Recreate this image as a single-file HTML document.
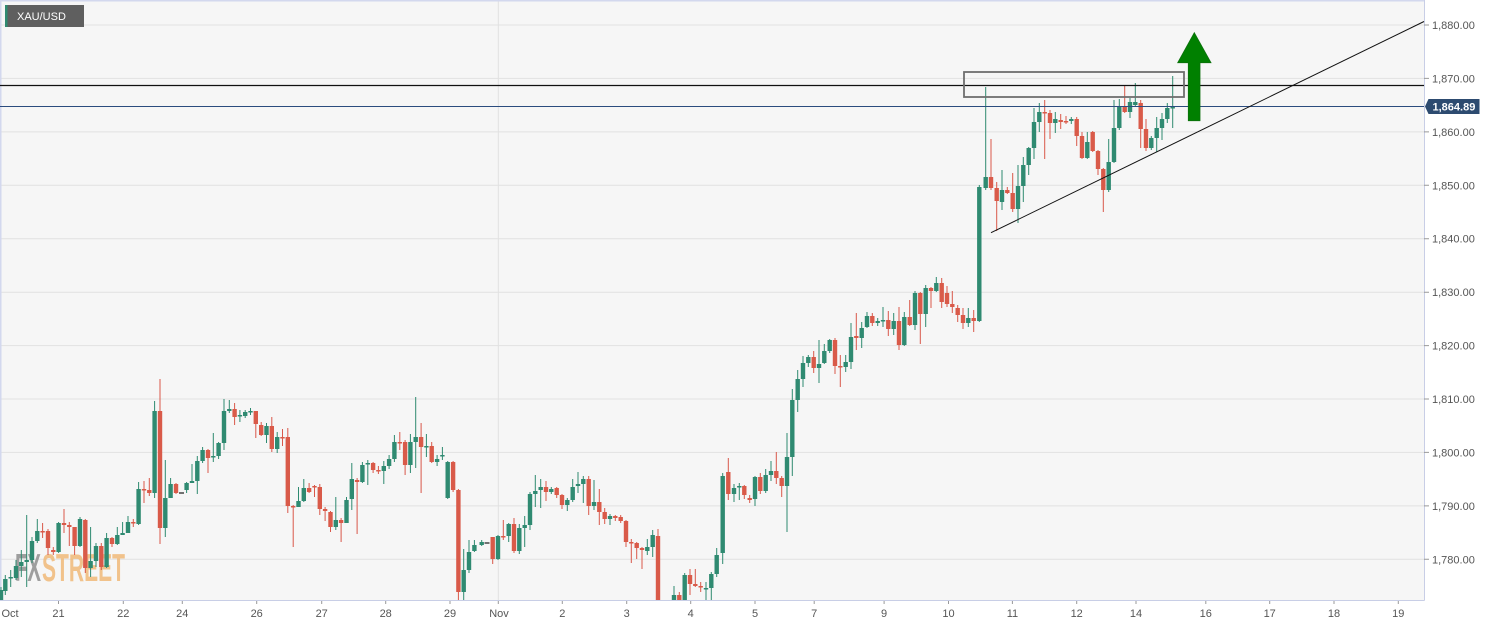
<!DOCTYPE html>
<html><head><meta charset="utf-8"><style>
html,body{margin:0;padding:0;background:#fff;width:1501px;height:626px;overflow:hidden}
svg{display:block}
text{font-family:"Liberation Sans",Arial,sans-serif}
</style></head><body>
<svg width="1501" height="626" viewBox="0 0 1501 626" xmlns="http://www.w3.org/2000/svg">
<defs><clipPath id="pc"><rect x="0" y="0" width="1424" height="600"/></clipPath></defs>
<rect x="0" y="0" width="1501" height="626" fill="#fff"/>
<rect x="0" y="0" width="1424" height="600" fill="#f6f6f6"/>
<!-- grid -->
<g stroke="#e1e1e1" stroke-width="1">
<path d="M0 25H1424M0 78.4H1424M0 131.9H1424M0 185.3H1424M0 238.7H1424M0 292.2H1424M0 345.6H1424M0 399H1424M0 452.4H1424M0 505.9H1424M0 559.3H1424"/>
<path d="M498.3 0V600"/>
</g>
<!-- borders -->
<path d="M0.75 0V600M0 0.75H1424" stroke="#d3d8ee" stroke-width="1.5"/>
<path d="M1424.5 0V600.5M0 600.5H1424.5" stroke="#c8cee6" stroke-width="1"/>
<!-- watermark -->
<text x="15" y="581" font-size="39" font-weight="bold" fill="#8e8e8e" fill-opacity="0.85" textLength="26" lengthAdjust="spacingAndGlyphs">FX</text>
<text x="42" y="581" font-size="39" font-weight="bold" fill="#f0b878" fill-opacity="0.85" textLength="83" lengthAdjust="spacingAndGlyphs">STREET</text>
<g clip-path="url(#pc)" fill="none" stroke-linecap="butt">
<!-- green wicks -->
<path stroke="#2e8a70" stroke-width="1" d="M1 587V600M5.3 575V595M10.7 570V587M16 560V580M21.3 550V577M26.7 515V587M32 537V563M37.3 519V543M58.6 522V553M80 517V547M90.6 527V577M96 543V567M106.6 533V568M117.3 527V545M122.6 522V535M128 516V533M138.6 482V525M154.6 401V498M165.3 460V537M170.6 478V498M186.6 482V493M192 464V483M197.3 456V494M202.6 447V463M213.3 433V462M218.6 442V459M224 399V450M229.3 400V413M239.9 410V422M245.2 410V418M250.5 408V415M266.5 423V443M277.2 432V453M298.5 487V507M303.8 479V502M335.8 497V530M346.5 497V523M351.8 463V510M362.4 462V483M367.8 460V485M383.8 461V484M389.1 455V469M394.4 435V462M410.4 434V473M415.7 397V468M426.4 434V457M437.1 455V466M442.4 447V460M447.7 461V499M463.7 549V600M469 540V573M474.4 540V552M481.7 540V546M498 535V560M508.7 523V542M519.3 524V554M524.7 516V547M530 492V530M535.3 475V507M540.7 479V508M551.3 487V494M567.3 498V511M572.7 479V502M578 472V493M583.3 476V503M594 480V510M610 514V525M647.3 539V555M652.7 530V557M674 586V600M684.7 573V600M706 582V600M711.3 572V600M716.7 548V577M722.7 473V564M734 484V502M739.3 483V500M755 476V506M765.7 469V493M771 461V481M787 433V532M792.3 389V476M797.7 370V412M803 356V387M808.3 355V367M819 340V383M824.3 344V364M829.7 339V353M845.7 355V372M851 323V369M861.7 322V348M867 312V328M877.7 318V326M883 307V327M893.7 313V335M904.3 312V346M915 291V330M925.7 285V327M936.3 277V292M968.3 308V327M979.3 185V322M985.7 87V190M1002 170V210M1018 165V223M1023.3 157V202M1028.7 147V175M1034 108V159M1039.3 103V132M1055.3 112V133M1071.3 117V124M1087.3 132V159M1108.7 139V192M1114 100V163M1119.3 99V130M1130 98V118M1135.3 83V107M1151.3 136V150M1156.7 117V152M1162 113V140M1167.3 103V123M1172.7 76V128"/>
<!-- green bodies -->
<path stroke="#2f8a71" stroke-width="4.4" d="M1 590V600M5.3 579V591M10.7 577V578.5M16 566V578M21.3 562V566M26.7 560V562M32 541V560M37.3 531V541M58.6 523V552M80 519V546M90.6 561V568M96 546V561M106.6 538V567M117.3 535V544M122.6 533V535M128 522V533M138.6 489V524M154.6 411V493M165.3 498V528M170.6 484V498M186.6 483V490M192 481V483M197.3 461V481M202.6 450V461M213.3 456V457.5M218.6 443V456M224 411V443M229.3 409V411M239.9 415V416.5M245.2 412V416M250.5 411V412.5M266.5 426V435M277.2 437V449M298.5 501V507M303.8 488V501M335.8 520V527M346.5 500V523M351.8 479V499M362.4 465V482M367.8 463V464.5M383.8 466V471M389.1 459V466M394.4 442V459M410.4 442V465M415.7 437V442M426.4 446V447.5M437.1 459V462M442.4 455V456.5M447.7 462V498M463.7 570V592M469 552V570M474.4 545V551M481.7 542V545M498 536V559M508.7 524V536M519.3 528V551M524.7 525V528M530 494V525M535.3 491V494M540.7 487V490M551.3 489V492M567.3 500V505M572.7 487V500M578 484V486M583.3 479V484M594 502V506M610 516V519M647.3 547V551M652.7 535V547M674 595V600M684.7 575V600M706 588V589.5M711.3 574V588M716.7 555V574M722.7 476V553M734 488V494M739.3 486V487.5M755 477V499M765.7 475V491M771 471V475M787 457V486M792.3 400V457M797.7 379V400M803 363V379M808.3 357V363M819 364V368M824.3 351V363M829.7 340V351M845.7 362V367M851 337V362M861.7 328V338M867 316V327M877.7 321V323M883 320V321.5M893.7 321V329M904.3 317V345M915 293V325M925.7 288V314M936.3 283V291M968.3 318V323M979.3 187V321M985.7 177V188M1002 190V202M1018 186V209M1023.3 165V186M1028.7 148V165M1034 122V148M1039.3 112V122M1055.3 119V123M1071.3 119V121M1087.3 142V158M1108.7 162V190M1114 128V162M1119.3 107V128M1130 102V112M1135.3 102V105M1151.3 138V148M1156.7 128V138M1162 119V128M1167.3 108V119M1172.7 107V108.5"/>
<!-- red wicks -->
<path stroke="#d9584a" stroke-width="1" d="M42.6 523V538M48 529V555M53.3 547V555M64 509V533M69.3 522V546M74.6 527V555M85.3 519V573M101.3 543V570M112 537V547M133.3 519V527M144 481V503M149.3 478V496M160 379V544M176 483V494M208 449V473M234.6 403V425M255.8 411V438M261.2 422V436M271.8 417V452M282.5 429V446M287.8 428V513M293.2 505V547M309.1 483V493M314.5 485V497M319.8 484V515M325.1 507V521M330.5 511V532M341.1 518V542M357.1 478V534M373.1 462V473M378.4 466V474M399.8 432V450M405.1 440V475M421.1 423V493M431.7 442V463M453.1 461V492M458.4 489V600M492.7 537V564M503.3 520V540M514 518V553M546 481V501M556.7 487V498M562 494V509M588.7 476V515M599.3 489V525M604.7 508V524M615.3 515V521M620.7 515V523M626 520V547M631.3 539V563M636.7 542V559M642 547V569M658 529V600M679.3 592V600M690 569V595M695.3 569V587M700.7 582V592M728.3 458V500M744.3 485V499M749.7 495V503M760.3 473V494M776.3 452V484M781.7 476V497M813.7 351V373M835 338V374M840.3 355V387M856.3 313V350M872.3 313V326M888.3 311V336M899 307V350M909.7 300V326M920.3 292V344M931 287V308M941.7 278V308M947 286V307M952.3 291V313M957.7 305V322M963 308V329M973.7 310V332M991 139V190M996.7 182V231M1007.3 187V194M1012.7 173V212M1044.7 100V159M1050 110V139M1060.7 114V129M1066 116V124M1076.7 117V146M1082 132V159M1092.7 131V152M1098 150V175M1103.3 168V212M1124.7 85V113M1140.7 100V148M1146 119V151"/>
<!-- red bodies -->
<path stroke="#d95a49" stroke-width="4.4" d="M42.6 531V532.5M48 531V548M53.3 550V552M64 523V525M69.3 525V527M74.6 527V546M85.3 520V568M101.3 546V567M112 538V544M133.3 522V523.5M144 489V490.5M149.3 490V493M160 411V528M176 484V493M208 450V458M234.6 409V417M255.8 411V424M261.2 425V435M271.8 426V449M282.5 437V438.5M287.8 437V506M293.2 506V507.5M309.1 488V492M314.5 486V487.5M319.8 487V509M325.1 509V511M330.5 512V527M341.1 520V523M357.1 480V482M373.1 463V470M378.4 470V471.5M399.8 442V443.5M405.1 442V465M421.1 437V447M431.7 446V462M453.1 462V490M458.4 490V592M492.7 537V559M503.3 536V537.5M514 524V551M546 487V492M556.7 488V495M562 495V505M588.7 479V506M599.3 502V512M604.7 512V519M615.3 516V518M620.7 517V521M626 521V542M631.3 542V543.5M636.7 543V548M642 548V550M658 536V600M679.3 595V600M690 575V584M695.3 584V586M700.7 586V587.5M728.3 472V494M744.3 486V495M749.7 498V500M760.3 477V491M776.3 471V478M781.7 478V486M813.7 357V368M835 340V366M840.3 366V367.5M856.3 336V338M872.3 316V323M888.3 320V329M899 321V345M909.7 317V325M920.3 293V314M931 288V291M941.7 283V302M947 293V304M952.3 304V307M957.7 308V315M963 315V323M973.7 318V321M991 177V188M996.7 188V201M1007.3 190V193M1012.7 193V209M1044.7 112V113.5M1050 113V123M1060.7 120V122M1066 121V122.5M1076.7 119V136M1082 136V158M1092.7 132V151M1098 151V169M1103.3 169V190M1124.7 107V112M1140.7 103V129M1146 129V148"/>
<!-- dojis -->
<path stroke="#222" stroke-width="1.2" d="M179 493H184M484.5 543H489.5"/>
</g>
<!-- horizontal lines -->
<path d="M0 85.5H1424" stroke="#111" stroke-width="1.2"/>
<path d="M0 106.5H1424" stroke="#2b4c7e" stroke-width="1"/>
<!-- rectangle -->
<rect x="964" y="72" width="220" height="25" fill="none" stroke="#6e6e6e" stroke-width="1.8"/>
<!-- trend line -->
<path d="M991 232.7L1424 21.5" stroke="#111" stroke-width="1"/>
<!-- arrow -->
<polygon points="1194.3,32.7 1211,62.7 1200,62.7 1200,120.7 1188.3,120.7 1188.3,62.7 1177.7,62.7" fill="#008000" stroke="#0b700b" stroke-width="0.8"/>
<!-- XAU/USD label -->
<rect x="5" y="5" width="79" height="22" fill="#5f5f5f"/>
<rect x="5" y="5" width="2.5" height="22" fill="#2e8a70"/>
<text x="17" y="20" font-size="11" fill="#fff">XAU/USD</text>
<!-- y axis ticks & labels -->
<g stroke="#999" stroke-width="1">
<path d="M1424 25H1429M1424 78.4H1429M1424 131.9H1429M1424 185.3H1429M1424 238.7H1429M1424 292.2H1429M1424 345.6H1429M1424 399H1429M1424 452.4H1429M1424 505.9H1429M1424 559.3H1429"/>
</g>
<g font-size="11" fill="#555">
<text x="1432" y="29">1,880.00</text>
<text x="1432" y="82.4">1,870.00</text>
<text x="1432" y="135.9">1,860.00</text>
<text x="1432" y="189.3">1,850.00</text>
<text x="1432" y="242.7">1,840.00</text>
<text x="1432" y="296.2">1,830.00</text>
<text x="1432" y="349.6">1,820.00</text>
<text x="1432" y="403">1,810.00</text>
<text x="1432" y="456.4">1,800.00</text>
<text x="1432" y="509.9">1,790.00</text>
<text x="1432" y="563.3">1,780.00</text>
</g>
<!-- price label -->
<polygon points="1425,106.5 1428.5,99 1479.5,99 1479.5,114 1428.5,114" fill="#2d4b70"/>
<text x="1432.5" y="110.6" font-size="11" font-weight="bold" fill="#fff">1,864.89</text>
<!-- x axis ticks -->
<path stroke="#999" stroke-width="1" d="M58.5 601V604M123.3 601V604M182.3 601V604M256.7 601V604M321.7 601V604M385.7 601V604M450 601V604M498.3 601V604M562.3 601V604M626.7 601V604M690.7 601V604M755 601V604M814.2 601V604M884.1 601V604M948.5 601V604M1012.4 601V604M1076.7 601V604M1136 601V604M1205.8 601V604M1269.7 601V604M1334 601V604M1398.3 601V604"/>
<g font-size="11" fill="#555" text-anchor="middle">
<text x="10" y="617">Oct</text>
<text x="58.5" y="617">21</text>
<text x="123.3" y="617">22</text>
<text x="182.3" y="617">24</text>
<text x="256.7" y="617">26</text>
<text x="321.7" y="617">27</text>
<text x="385.7" y="617">28</text>
<text x="450" y="617">29</text>
<text x="499" y="617">Nov</text>
<text x="562.3" y="617">2</text>
<text x="626.7" y="617">3</text>
<text x="690.7" y="617">4</text>
<text x="755" y="617">5</text>
<text x="814.2" y="617">7</text>
<text x="884.1" y="617">9</text>
<text x="948.5" y="617">10</text>
<text x="1012.4" y="617">11</text>
<text x="1076.7" y="617">12</text>
<text x="1136" y="617">14</text>
<text x="1205.8" y="617">16</text>
<text x="1269.7" y="617">17</text>
<text x="1334" y="617">18</text>
<text x="1398.3" y="617">19</text>
</g>
</svg>
</body></html>
